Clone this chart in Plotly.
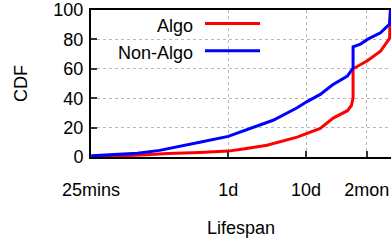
import plotly.graph_objects as go
import math

# Lifespan in days, CDF in percent
nonalgo_days = [0.0175, 0.0368, 0.0686, 0.132, 0.239, 0.432, 1.0, 2.08, 3.77, 7.68, 10.3, 15.2, 21.7, 33.9, 40.1, 40.1, 49.8, 61.2, 90.2, 118, 121]
nonalgo_cdf = [0.8, 1.5, 2.5, 4.5, 7.0, 10.0, 14.0, 20.0, 25.0, 33.5, 37.7, 42.6, 49.0, 55.0, 60.5, 75.0, 76.7, 80.0, 84.5, 90.5, 100.0]

algo_days = [0.0175, 0.0368, 0.0896, 0.167, 0.432, 1.0, 1.64, 3.15, 7.68, 10.3, 15.2, 22.3, 33.9, 38.2, 40.1, 40.1, 49.8, 61.2, 90.2, 118, 121]
algo_cdf = [0.3, 0.6, 1.5, 2.3, 3.0, 4.0, 5.6, 8.0, 13.5, 16.0, 19.5, 26.5, 31.5, 35.0, 40.0, 60.0, 62.8, 65.5, 72.0, 80.7, 100.0]

x_tick_vals = [25 / 1440, 1, 10, 60]
x_tick_text = ["25mins", "1d", "10d", "2mon"]
y_tick_vals = [0, 20, 40, 60, 80, 100]

FONT = "Liberation Sans, Arial, Helvetica, sans-serif"

fig = go.Figure()
fig.add_trace(go.Scatter(x=algo_days, y=algo_cdf, mode="lines", name="Algo",
                         line=dict(color="#ff0000", width=3)))
fig.add_trace(go.Scatter(x=nonalgo_days, y=nonalgo_cdf, mode="lines", name="Non-Algo",
                         line=dict(color="#0000ff", width=3)))

fig.update_layout(
    width=391, height=245,
    margin=dict(l=91, r=0, t=8, b=88),
    paper_bgcolor="white", plot_bgcolor="white",
    showlegend=False,
    font=dict(family=FONT, size=18, color="black"),
    hovermode=False,
)
fig.update_xaxes(
    type="log",
    range=[math.log10(25 / 1440), math.log10(123)],
    tickvals=x_tick_vals, ticktext=x_tick_text,
    ticks="inside", ticklen=6, tickwidth=1.5, tickcolor="#333",
    ticklabelstandoff=15, ticklabeloverflow="allow",
    showline=True, linecolor="black", linewidth=2, mirror=True,
    showgrid=True, gridcolor="#b8b8b8", griddash="dot", gridwidth=1,
    zeroline=False,
)
fig.update_yaxes(
    range=[0, 100],
    tickvals=y_tick_vals,
    ticks="inside", ticklen=6, tickwidth=1.5, tickcolor="#333",
    ticklabelstandoff=2, ticklabeloverflow="allow",
    showline=True, linecolor="black", linewidth=2, mirror=False,
    showgrid=True, gridcolor="#b8b8b8", griddash="dot", gridwidth=1,
    zeroline=False,
)

# axis titles
fig.add_annotation(text="CDF", xref="paper", yref="paper", x=-91 / 300, y=(157 - 83) / 149,
                   xanchor="left", yanchor="middle", textangle=-90, showarrow=False,
                   font=dict(size=18), xshift=9)
fig.add_annotation(text="Lifespan", xref="paper", yref="paper", x=0.5, y=(157 - 229) / 149,
                   xanchor="center", yanchor="middle", showarrow=False, font=dict(size=18))

# legend (gnuplot style: text then sample line)
legend_items = [("Algo", "#ff0000", 21.7), ("Non-Algo", "#0000ff", 49.3)]
for label, color, ypx in legend_items:
    yp = (157 - ypx) / 149
    fig.add_annotation(text=label, xref="paper", yref="paper", x=(195 - 91) / 300, y=yp,
                       xanchor="right", yanchor="middle", showarrow=False,
                       font=dict(size=18), yshift=-2, bgcolor="white")
    fig.add_shape(type="line", xref="paper", yref="paper",
                  x0=(205 - 91) / 300, x1=(260 - 91) / 300, y0=yp, y1=yp,
                  line=dict(color=color, width=3))

fig.write_html("out.html", config={"displayModeBar": False},
               post_script="document.body.style.margin='0';document.body.style.overflow='hidden';")
